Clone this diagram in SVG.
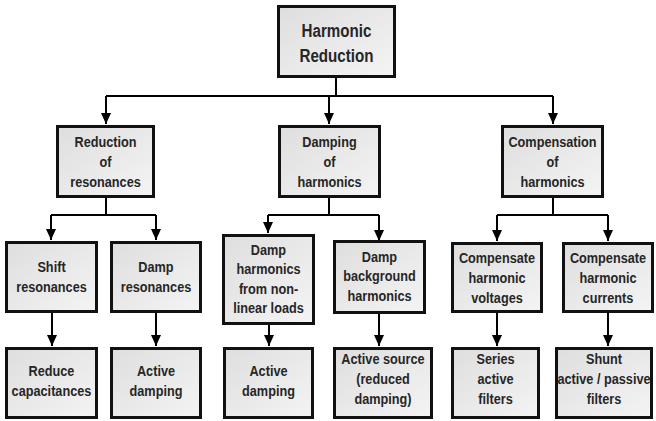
<svg xmlns="http://www.w3.org/2000/svg" width="656" height="421" viewBox="0 0 656 421">
<defs>
<linearGradient id="g" x1="0" y1="0" x2="1" y2="1">
<stop offset="0" stop-color="#dedede"/>
<stop offset="1" stop-color="#f4f4f4"/>
</linearGradient>
<marker id="ah" markerUnits="userSpaceOnUse" markerWidth="12" markerHeight="12" viewBox="0 0 12 12" refX="11" refY="6" orient="auto">
<path d="M0,1 L11,6 L0,11 Z" fill="#000"/>
</marker>
<style>
.box{fill:url(#g);stroke:#111;stroke-width:3}
.t{font-family:"Liberation Sans",Arial,sans-serif;font-weight:bold;font-size:15.5px;fill:#262626;text-anchor:middle}
.top{font-size:18.5px}
.c{fill:none;stroke:#000;stroke-width:2}
.a{fill:none;stroke:#000;stroke-width:2;marker-end:url(#ah)}
</style>
</defs>
<rect width="656" height="421" fill="#fff"/>
<g id="connectors">
<path class="c" d="M336,78 V96 M106,96 H553"/>
<path class="a" d="M106,96 V124"/>
<path class="a" d="M329,96 V124"/>
<path class="a" d="M553,96 V124"/>
<path class="c" d="M106,198 V215 M51,215 H156"/>
<path class="a" d="M51,215 V240"/>
<path class="a" d="M156,215 V240"/>
<path class="c" d="M329,198 V215 M268,215 H379"/>
<path class="a" d="M268,215 V233"/>
<path class="a" d="M379,215 V241"/>
<path class="c" d="M553,198 V215 M497,215 H608"/>
<path class="a" d="M497,215 V241"/>
<path class="a" d="M608,215 V241"/>
<path class="a" d="M52,313 V346"/>
<path class="a" d="M156,313 V346"/>
<path class="a" d="M269,325 V346"/>
<path class="a" d="M379,314 V346"/>
<path class="a" d="M497,313 V346"/>
<path class="a" d="M608,313 V346"/>
</g>
<g id="n-harmonic-reduction">
<rect class="box" x="278.5" y="6.5" width="116" height="70"/>
<g transform="translate(336.5,0) scale(0.82,1)">
<text class="t top" x="0" y="37">Harmonic</text>
<text class="t top" x="0" y="62">Reduction</text>
</g>
</g>
<g id="n-reduction-resonances">
<rect class="box" x="57.5" y="126.5" width="96" height="70"/>
<g transform="translate(105.5,0) scale(0.82,1)">
<text class="t" x="0" y="147">Reduction</text>
<text class="t" x="0" y="167">of</text>
<text class="t" x="0" y="187">resonances</text>
</g>
</g>
<g id="n-damping-harmonics">
<rect class="box" x="279.5" y="126.5" width="100" height="70"/>
<g transform="translate(329.5,0) scale(0.82,1)">
<text class="t" x="0" y="147">Damping</text>
<text class="t" x="0" y="167">of</text>
<text class="t" x="0" y="187">harmonics</text>
</g>
</g>
<g id="n-compensation-harmonics">
<rect class="box" x="502.5" y="126.5" width="100" height="70"/>
<g transform="translate(552.5,0) scale(0.82,1)">
<text class="t" x="0" y="147">Compensation</text>
<text class="t" x="0" y="167">of</text>
<text class="t" x="0" y="187">harmonics</text>
</g>
</g>
<g id="n-shift-resonances">
<rect class="box" x="6.5" y="242.5" width="90" height="69"/>
<g transform="translate(51.5,0) scale(0.82,1)">
<text class="t" x="0" y="272">Shift</text>
<text class="t" x="0" y="292">resonances</text>
</g>
</g>
<g id="n-damp-resonances">
<rect class="box" x="111.5" y="242.5" width="89" height="69"/>
<g transform="translate(156,0) scale(0.82,1)">
<text class="t" x="0" y="272">Damp</text>
<text class="t" x="0" y="292">resonances</text>
</g>
</g>
<g id="n-damp-nonlinear">
<rect class="box" x="223.5" y="235.5" width="90" height="88"/>
<g transform="translate(268.5,0) scale(0.82,1)">
<text class="t" x="0" y="255">Damp</text>
<text class="t" x="0" y="274.5">harmonics</text>
<text class="t" x="0" y="294">from non-</text>
<text class="t" x="0" y="313.5">linear loads</text>
</g>
</g>
<g id="n-damp-background">
<rect class="box" x="334.5" y="241.5" width="90" height="71"/>
<g transform="translate(379.5,0) scale(0.82,1)">
<text class="t" x="0" y="262">Damp</text>
<text class="t" x="0" y="281.5">background</text>
<text class="t" x="0" y="301">harmonics</text>
</g>
</g>
<g id="n-comp-voltages">
<rect class="box" x="452.5" y="243.5" width="89" height="68"/>
<g transform="translate(497,0) scale(0.82,1)">
<text class="t" x="0" y="263">Compensate</text>
<text class="t" x="0" y="283">harmonic</text>
<text class="t" x="0" y="303">voltages</text>
</g>
</g>
<g id="n-comp-currents">
<rect class="box" x="563.5" y="243.5" width="89" height="68"/>
<g transform="translate(608,0) scale(0.82,1)">
<text class="t" x="0" y="263">Compensate</text>
<text class="t" x="0" y="283">harmonic</text>
<text class="t" x="0" y="303">currents</text>
</g>
</g>
<g id="n-reduce-capacitances">
<rect class="box" x="6.5" y="348.5" width="90" height="69"/>
<g transform="translate(51.5,0) scale(0.82,1)">
<text class="t" x="0" y="376">Reduce</text>
<text class="t" x="0" y="396">capacitances</text>
</g>
</g>
<g id="n-active-damping-1">
<rect class="box" x="111.5" y="348.5" width="89" height="69"/>
<g transform="translate(156,0) scale(0.82,1)">
<text class="t" x="0" y="376">Active</text>
<text class="t" x="0" y="396">damping</text>
</g>
</g>
<g id="n-active-damping-2">
<rect class="box" x="224.5" y="348.5" width="88" height="69"/>
<g transform="translate(268.5,0) scale(0.82,1)">
<text class="t" x="0" y="376">Active</text>
<text class="t" x="0" y="396">damping</text>
</g>
</g>
<g id="n-active-source">
<rect class="box" x="334.5" y="348.5" width="97" height="69"/>
<g transform="translate(383,0) scale(0.82,1)">
<text class="t" x="0" y="364">Active source</text>
<text class="t" x="0" y="384">(reduced</text>
<text class="t" x="0" y="404">damping)</text>
</g>
</g>
<g id="n-series-filters">
<rect class="box" x="452.5" y="348.5" width="86" height="69"/>
<g transform="translate(495.5,0) scale(0.82,1)">
<text class="t" x="0" y="364">Series</text>
<text class="t" x="0" y="384">active</text>
<text class="t" x="0" y="404">filters</text>
</g>
</g>
<g id="n-shunt-filters">
<rect class="box" x="556.5" y="348.5" width="95" height="69"/>
<g transform="translate(604,0) scale(0.82,1)">
<text class="t" x="0" y="364">Shunt</text>
<text class="t" x="0" y="384">active / passive</text>
<text class="t" x="0" y="404">filters</text>
</g>
</g>
</svg>
